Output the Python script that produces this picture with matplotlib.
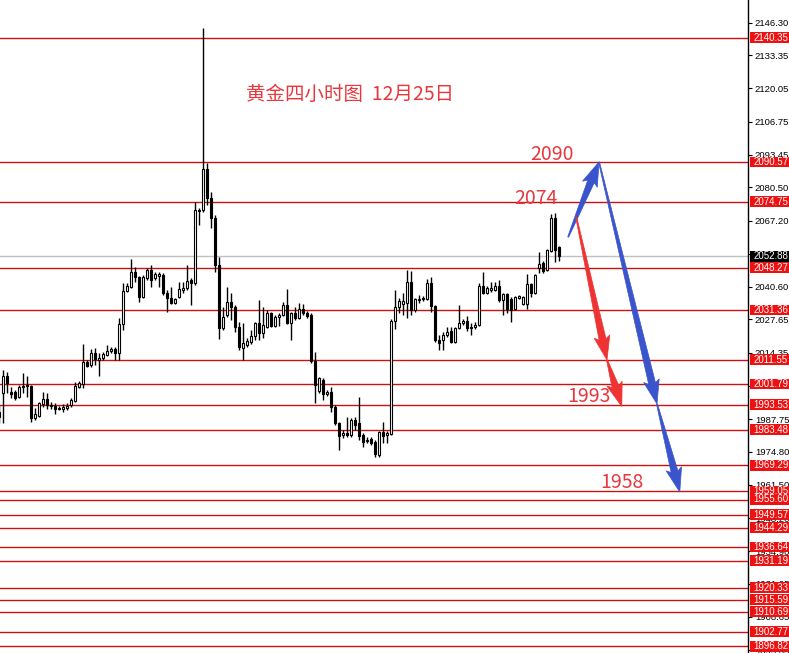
import matplotlib
matplotlib.use("Agg")
import matplotlib.pyplot as plt
import matplotlib.transforms as mtransforms
from matplotlib.patches import Polygon, Rectangle
import numpy as np

plt.rcParams['font.family'] = ['Noto Sans CJK SC', 'DejaVu Sans']

# 4-hour gold candles
opens = [1988.6, 1998.2, 2005.0, 1998.6, 1998.6, 1996.6, 2000.6, 2001.0, 2001.0, 1988.2,
         1989.0, 1993.8, 1995.8, 1993.4, 1993.0, 1992.2, 1991.8, 1992.2, 1993.4, 1995.0,
         2000.6, 2001.8, 2010.6, 2009.4, 2014.2, 2011.4, 2012.2, 2013.4, 2015.0, 2015.8,
         2014.2, 2025.8, 2039.0, 2040.6, 2046.6, 2044.6, 2036.6, 2044.2, 2047.4, 2044.2,
         2045.0, 2045.4, 2038.2, 2036.2, 2034.2, 2036.6, 2039.4, 2040.2, 2043.4, 2042.2,
         2071.0, 2071.4, 2087.8, 2076.2, 2068.2, 2049.4, 2024.2, 2029.4, 2034.6, 2032.6,
         2024.6, 2016.2, 2017.4, 2018.6, 2021.0, 2026.2, 2022.2, 2024.6, 2030.2, 2025.0,
         2028.6, 2029.4, 2033.4, 2026.2, 2030.2, 2028.2, 2031.8, 2030.2, 2029.4, 2011.0,
         1999.0, 2003.4, 1997.8, 1998.6, 1992.6, 1986.2, 1981.4, 1982.2, 1981.4, 1987.4,
         1986.2, 1981.4, 1979.0, 1979.8, 1978.6, 1973.4, 1982.6, 1981.4, 1981.8, 2027.0,
         2032.6, 2033.8, 2034.2, 2042.6, 2031.4, 2035.4, 2035.8, 2035.8, 2042.2, 2033.0,
         2019.4, 2019.4, 2021.4, 2023.0, 2018.6, 2024.2, 2026.2, 2027.0, 2024.6, 2024.6,
         2025.4, 2041.0, 2038.2, 2039.4, 2039.4, 2041.0, 2035.4, 2037.8, 2035.8, 2031.8,
         2036.2, 2033.8, 2033.8, 2041.8, 2038.2, 2048.2, 2050.2, 2047.4, 2055.0, 2068.2,
         2056.6]
highs = [1993.4, 2007.4, 2006.6, 2000.6, 1999.4, 2001.4, 2006.2, 2005.0, 2001.4, 1992.2,
         1994.6, 1998.6, 1998.2, 1994.6, 1994.2, 1993.0, 1993.8, 1994.2, 1996.2, 2002.6,
         2003.0, 2017.8, 2011.4, 2015.8, 2016.2, 2014.2, 2014.6, 2017.4, 2016.6, 2016.6,
         2028.2, 2042.2, 2042.2, 2051.8, 2048.6, 2045.0, 2045.4, 2048.2, 2049.4, 2046.6,
         2046.6, 2046.2, 2039.4, 2040.6, 2036.2, 2042.6, 2042.6, 2049.4, 2044.2, 2074.6,
         2072.2, 2144.2, 2090.2, 2078.6, 2069.4, 2052.6, 2032.6, 2040.6, 2038.2, 2033.4,
         2026.6, 2026.2, 2020.2, 2023.4, 2026.6, 2035.4, 2032.6, 2031.4, 2030.6, 2029.4,
         2030.2, 2034.6, 2039.8, 2030.6, 2032.6, 2034.2, 2033.8, 2031.0, 2030.2, 2014.6,
         2004.6, 2004.2, 1999.4, 2000.6, 1993.4, 1986.6, 1983.4, 1988.6, 1988.2, 1988.6,
         1996.6, 1982.2, 1980.6, 1980.6, 1979.4, 1983.0, 1986.6, 1983.0, 2027.8, 2039.4,
         2036.2, 2038.2, 2047.4, 2047.0, 2036.2, 2037.4, 2037.0, 2043.8, 2044.6, 2033.4,
         2021.4, 2022.6, 2024.6, 2024.6, 2024.6, 2033.4, 2027.8, 2029.0, 2026.2, 2026.6,
         2042.2, 2046.6, 2041.0, 2042.6, 2042.6, 2043.4, 2038.2, 2038.2, 2036.6, 2037.0,
         2037.4, 2037.0, 2045.8, 2042.2, 2045.8, 2054.6, 2051.0, 2055.8, 2069.8, 2070.2,
         2057.0]
lows = [1986.2, 1986.2, 1998.2, 1996.2, 1995.4, 1996.2, 1998.2, 1996.6, 1986.6, 1987.4,
        1988.6, 1992.6, 1991.8, 1991.8, 1989.8, 1991.4, 1990.6, 1991.4, 1992.6, 1994.6,
        2000.2, 2000.2, 2008.6, 2008.6, 2009.4, 2005.0, 2011.4, 2013.0, 2014.2, 2011.4,
        2011.4, 2023.4, 2038.6, 2040.2, 2042.6, 2034.6, 2036.2, 2043.4, 2040.6, 2043.4,
        2040.6, 2037.4, 2030.6, 2033.8, 2033.8, 2036.2, 2038.2, 2039.4, 2033.4, 2041.4,
        2065.4, 2070.6, 2073.4, 2064.2, 2046.6, 2019.8, 2023.4, 2028.6, 2027.4, 2022.6,
        2015.4, 2011.4, 2016.6, 2017.8, 2019.4, 2019.4, 2020.2, 2024.2, 2024.6, 2024.6,
        2025.0, 2029.0, 2025.8, 2019.4, 2027.4, 2027.8, 2029.4, 2028.2, 2010.2, 1994.2,
        1998.2, 1995.4, 1997.0, 1990.6, 1985.4, 1975.4, 1980.2, 1980.6, 1980.6, 1983.4,
        1979.4, 1976.6, 1978.2, 1977.4, 1972.6, 1972.6, 1978.2, 1978.2, 1981.4, 2023.8,
        2030.2, 2029.4, 2028.2, 2029.4, 2030.6, 2034.2, 2035.0, 2035.4, 2030.6, 2018.6,
        2015.4, 2015.4, 2020.6, 2018.2, 2018.2, 2023.8, 2025.4, 2023.0, 2021.4, 2023.8,
        2025.0, 2037.8, 2037.8, 2038.6, 2039.0, 2034.6, 2029.4, 2030.2, 2026.6, 2031.4,
        2035.8, 2033.4, 2031.8, 2036.6, 2037.8, 2046.2, 2046.2, 2047.0, 2054.6, 2050.6,
        2051.0]
closes = [1990.6, 2005.0, 2002.2, 1997.8, 1996.2, 2000.6, 2001.0, 2001.4, 1988.2, 1989.8,
          1994.2, 1995.8, 1993.4, 1993.0, 1991.8, 1991.8, 1992.6, 1993.0, 1995.4, 2001.0,
          2002.2, 2010.6, 2009.0, 2014.2, 2011.8, 2012.2, 2013.8, 2015.0, 2015.8, 2014.2,
          2025.8, 2039.0, 2041.0, 2046.6, 2044.6, 2036.6, 2044.6, 2047.4, 2043.4, 2045.8,
          2045.8, 2038.2, 2036.2, 2034.2, 2035.8, 2039.8, 2040.2, 2043.0, 2042.2, 2071.4,
          2071.4, 2087.8, 2076.2, 2068.2, 2049.4, 2024.2, 2028.6, 2034.6, 2032.6, 2024.6,
          2016.6, 2018.2, 2019.0, 2021.0, 2026.2, 2022.2, 2025.4, 2030.2, 2025.0, 2028.6,
          2029.4, 2033.4, 2026.2, 2030.2, 2028.2, 2031.8, 2030.2, 2029.0, 2011.0, 2001.4,
          2004.2, 1997.8, 1998.6, 1992.6, 1986.2, 1981.0, 1982.2, 1981.4, 1987.4, 1985.4,
          1981.0, 1978.6, 1979.4, 1978.2, 1973.8, 1982.6, 1981.0, 1982.2, 2027.0, 2032.6,
          2035.0, 2035.0, 2042.6, 2031.4, 2035.8, 2035.8, 2036.2, 2042.2, 2033.0, 2019.4,
          2018.2, 2021.4, 2022.6, 2018.6, 2024.2, 2026.2, 2027.0, 2024.2, 2024.2, 2025.4,
          2041.0, 2038.2, 2040.2, 2040.2, 2041.0, 2035.4, 2037.8, 2031.8, 2031.4, 2036.6,
          2037.0, 2036.6, 2041.8, 2038.2, 2045.4, 2049.8, 2047.0, 2055.4, 2068.2, 2055.4,
          2052.88]

# horizontal support / resistance lines
levels = [2140.35, 2090.57, 2074.75, 2048.27, 2031.36, 2011.55, 2001.79, 1993.53,
          1983.48, 1969.29, 1959.05, 1955.60, 1949.57, 1944.29, 1936.64, 1931.19,
          1920.33, 1915.59, 1910.69, 1902.77, 1896.82]
price_now = 2052.88
axis_ticks = [2146.30, 2133.35, 2120.05, 2106.75, 2093.45, 2080.50, 2067.20, 2053.90,
              2040.60, 2027.65, 2014.35, 2001.05, 1987.75, 1974.80, 1961.50, 1948.20,
              1934.90, 1921.95, 1908.65, 1895.35]

title = "黄金四小时图  12月25日"
# target labels: (text, bar index, price)
targets = [("2090", 132.8, 2093.4), ("2074", 128.8, 2075.8),
           ("1993", 142.0, 1997.0), ("1958", 150.3, 1962.2)]
# projected paths: (bar index, price)
blue_path = [(142.3, 2060.6), (150.0, 2090.6), (164.5, 1993.8), (170.2, 1958.6)]
red_path = [(144.3, 2068.6), (152.0, 2011.4), (155.7, 1992.8)]

W, H = 789, 653
fig = plt.figure(figsize=(W / 100, H / 100), dpi=100)
fig.patch.set_facecolor('white')
ax = fig.add_axes([0, 0, 748 / W, 1])
ax.set_xlim(0.25, 187.25)
ax.set_ylim(1894.2, 2155.4)

x = np.arange(len(opens))
o = np.array(opens)
c = np.array(closes)

# lines
for lv in levels:
    ax.axhline(lv, color='#cc1111', lw=1, zorder=2)
ax.axhline(price_now, color='#c0c0c0', lw=1, zorder=1)

# candles
ax.vlines(x, lows, highs, color='black', lw=1, zorder=3)
bottom = np.minimum(o, c)
height = np.maximum(np.abs(c - o), 0.45)
fill = ['white' if cc >= oo else 'black' for oo, cc in zip(o, c)]
ax.bar(x, height, bottom=bottom, width=0.7, color=fill, edgecolor='black',
       lw=0.8, zorder=4)

# right axis
for s in ['top', 'left', 'bottom']:
    ax.spines[s].set_visible(False)
ax.spines['right'].set_color('black')
ax.spines['right'].set_linewidth(1)
ax.set_xticks([])
ax.yaxis.tick_right()
ax.set_yticks(axis_ticks)
ax.set_yticklabels(['%.2f' % t for t in axis_ticks])
ax.tick_params(axis='y', length=3, width=0.8, pad=2, labelsize=6.8, colors='black')
for lbl in ax.get_yticklabels():
    lbl.set_fontfamily('Liberation Sans')

blend = mtransforms.blended_transform_factory(fig.transFigure, ax.transData)
box_h = 4.3


def price_box(val, color):
    ax.add_patch(Rectangle((750 / W, val - box_h / 2), 39 / W, box_h, transform=blend,
                           facecolor=color, edgecolor='none', clip_on=False, zorder=8))
    ax.text(771 / W, val, '%.2f' % val, transform=blend, ha='center', va='center',
            color='white', fontsize=7, family='Liberation Sans', clip_on=False, zorder=9)


for lv in levels:
    price_box(lv, '#ee1111')
price_box(price_now, 'black')

# arrows drawn as tapered polygons (pixel space)
def taper_arrow(p0, p1, color, w0=1.0, w1=7.0, hw=16.0, hl=21.0):
    a = ax.transData.transform(p0)
    b = ax.transData.transform(p1)
    d = b - a
    u = d / np.hypot(*d)
    n = np.array([-u[1], u[0]])
    neck = b - u * hl
    pts = [a + n * w0 / 2, neck + n * w1 / 2, neck - u * 3 + n * hw / 2, b,
           neck - u * 3 - n * hw / 2, neck - n * w1 / 2, a - n * w0 / 2]
    pts = ax.transData.inverted().transform(pts)
    ax.add_patch(Polygon(pts, closed=True, facecolor=color, edgecolor=color,
                         lw=0.5, zorder=6))


for p0, p1 in zip(blue_path[:-1], blue_path[1:]):
    taper_arrow(p0, p1, '#3a55cc')
for p0, p1 in zip(red_path[:-1], red_path[1:]):
    taper_arrow(p0, p1, '#ee3333')

ax.text(61.75, 2117.8, title, color='#e8383d', fontsize=14, ha='left', va='center',
        zorder=7)
for txt, xi, yp in targets:
    ax.text(xi, yp, txt, color='#e8383d', fontsize=14, ha='left', va='center', zorder=7)

fig.savefig('out.png', dpi=100, facecolor='white')
